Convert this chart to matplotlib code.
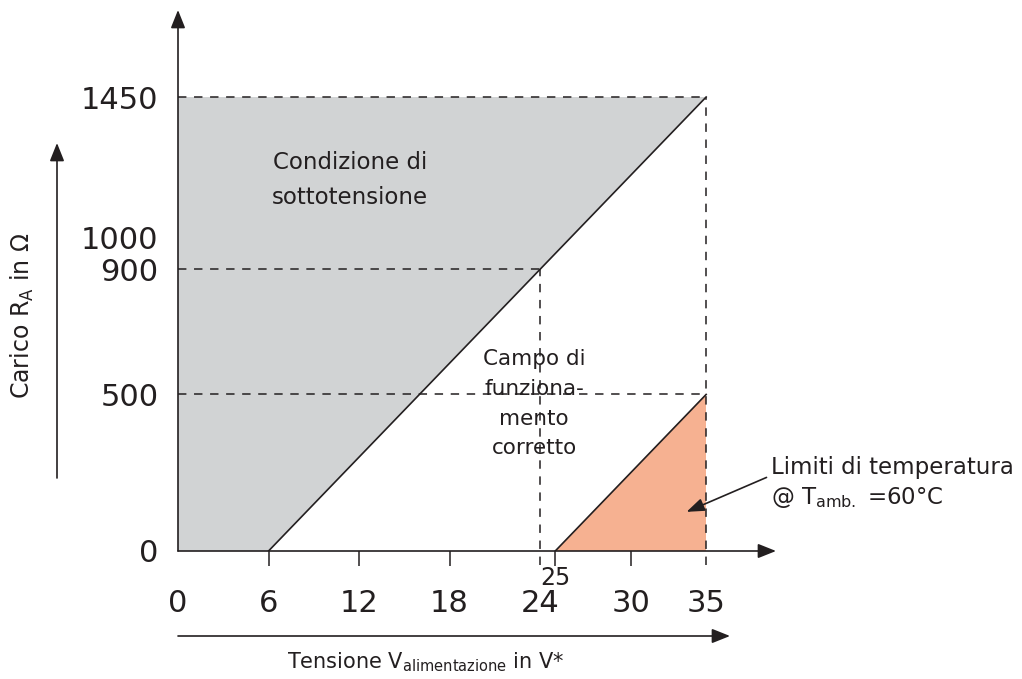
import matplotlib.pyplot as plt
import numpy as np

# data
undervolt_v = [0, 6, 35, 0]
undervolt_r = [0, 0, 1450, 1450]
limit_v = [6, 35]
limit_r = [0, 1450]
temp_v = [25, 35, 35]
temp_r = [0, 0, 500]
xticks = [0, 6, 12, 18, 24, 30, 35]
xminor = [6, 12, 18, 25, 30]
xminor_labels = ['', '', '', '25', '']
yticks = [0, 500, 900, 1000, 1450]

ink = '#231f20'
grey = '#d1d3d4'
salmon = '#f6b191'

fig = plt.figure(figsize=(10.22, 6.79), dpi=100)
ax = fig.add_axes([178 / 1022, 128 / 679, 598 / 1022, 541 / 679])
ax.set_xlim(0, 598 / 15.09)
ax.set_ylim(0, 541 / 0.3131)

ax.fill(undervolt_v, undervolt_r, color=grey, lw=0, zorder=1)
ax.fill(temp_v, temp_r, color=salmon, lw=0, zorder=1)

dash = dict(color=ink, lw=1.1, ls=(0, (5.5, 5)), zorder=2, clip_on=False)
ax.plot([0, 35], [1450, 1450], **dash)
ax.plot([35, 35], [-45, 1450], **dash)
ax.plot([0, 24], [900, 900], **dash)
ax.plot([24, 24], [-45, 900], **dash)
ax.plot([0, 35], [500, 500], **dash)

ax.plot(limit_v, limit_r, color=ink, lw=1.2, zorder=3)
ax.plot(temp_v[:1] + temp_v[2:], temp_r[:1] + temp_r[2:], color=ink, lw=1.2, zorder=3)

# axes with arrows
for spine in ax.spines.values():
    spine.set_visible(False)
head = dict(arrowstyle='-|>,head_length=0.55,head_width=0.22', color=ink, lw=1.2,
            mutation_scale=20, shrinkA=0, shrinkB=0)
ax.annotate('', xy=(1, 0), xytext=(0, 0), xycoords='axes fraction', arrowprops=head)
ax.annotate('', xy=(0, 1), xytext=(0, 0), xycoords='axes fraction', arrowprops=head)

ax.xaxis.remove_overlapping_locs = False
ax.set_xticks(xticks)
ax.set_yticks(yticks)
ax.tick_params(axis='both', which='major', length=0, labelsize=22, labelcolor=ink)
ax.tick_params(axis='x', which='major', pad=27)
ax.tick_params(axis='y', which='major', pad=14)
ax.set_xticks(xminor, minor=True)
ax.set_xticklabels(xminor_labels, minor=True)
ax.tick_params(axis='x', which='minor', length=11, width=1.1, color=ink,
               direction='out', pad=0, labelsize=17, labelcolor=ink)

# axis titles with their own arrows
ax.annotate('', xy=(730 / 1022, 43 / 679), xytext=(178 / 1022, 43 / 679),
            xycoords='figure fraction', arrowprops=head)
fig.text(426 / 1022, 17 / 679, r'Tensione V$_{\mathrm{alimentazione}}$ in V*',
         ha='center', va='center', fontsize=15, color=ink)
ax.annotate('', xy=(57 / 1022, 536 / 679), xytext=(57 / 1022, 201 / 679),
            xycoords='figure fraction', arrowprops=head)
fig.text(22 / 1022, 363 / 679, r'Carico R$_{\mathrm{A}}$ in Ω', rotation=90,
         ha='center', va='center', fontsize=17, color=ink)

# region labels
ax.text(11.4, 1185, 'Condizione di\nsottotensione', ha='center', va='center',
        fontsize=16.5, color=ink, linespacing=1.65, zorder=4)
ax.text(23.6, 470, 'Campo di\nfunziona-\nmento\ncorretto', ha='center', va='center',
        fontsize=15.5, color=ink, linespacing=1.6, zorder=4)

ax.annotate('', xy=(33.7, 125), xytext=(39.0, 235), xycoords='data',
            arrowprops=dict(arrowstyle='-|>,head_length=0.6,head_width=0.22', color=ink,
                            lw=1.2, mutation_scale=18, shrinkA=0, shrinkB=0), annotation_clip=False)
ax.text(39.3, 217, 'Limiti di temperatura\n@ T$_{\\mathrm{amb.}}$ =60°C', ha='left', va='center',
        fontsize=16.5, color=ink, linespacing=1.35, clip_on=False)

fig.savefig('out.png', dpi=100)
